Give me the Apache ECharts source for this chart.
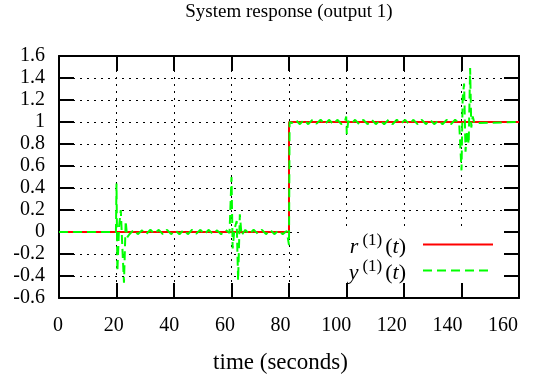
<!DOCTYPE html>
<html>
<head>
<meta charset="utf-8">
<script src="https://cdn.jsdelivr.net/npm/echarts@6/dist/echarts.min.js"></script>
<style>
  html, body { margin: 0; padding: 0; background: #fff; }
  #chart { width: 539px; height: 379px; }
</style>
</head>
<body>
<div id="chart"></div>
<script>
// reference r(t): step at 80 s
const timeR = [0, 80, 80, 160];
const refR = [0, 0, 1, 1];

// output y(t)
const timeY = [
  0, 19.8, 20, 20.3, 20.9, 21.5, 22.0, 22.6, 23.2, 23.7,
  24.5, 26, 27.4, 28.9, 30.3, 31.8, 33.2, 34.7, 36.1, 37.6, 39, 40.5, 41.9,
  43.4, 44.8, 46.3, 47.7, 49.2, 50.6, 52.1, 53.5, 55, 56.4, 57.9, 59.3,
  60, 60.4, 61, 61.8, 62.3, 62.9, 63.5,
  64.8, 66.2, 67.7, 69.1, 70.6, 72, 73.5, 74.9, 76.4, 77.8, 79.2,
  80, 80.2, 81, 82.3, 83.8, 85.2, 86.7, 88.1, 89.6, 91, 92.5, 93.9, 95.4,
  96.8, 98.3, 99.5, 99.9, 100.1, 100.6,
  101.5, 103, 104.4, 105.9, 107.3, 108.8, 110.2, 111.7, 113.1, 114.6, 116,
  117.5, 118.9, 120.4, 121.8, 123.3, 124.7, 126.2, 127.6, 129.1, 130.5, 132,
  133.4, 134.9, 136.3, 137.8, 139.2,
  140, 140.4, 140.9, 141.4, 141.9, 142.5, 143, 143.4, 143.9, 144.5, 145, 160
];
const outputY = [
  0, 0, 0.44, -0.36, 0.05, 0.2, -0.12, -0.46, 0.1, -0.05,
  -0.02, 0.02, -0.02, 0.015, -0.02, 0.02, -0.015, 0.02, -0.02, 0.02, -0.02, 0.015, -0.02,
  0.02, -0.02, 0.02, -0.015, 0.02, -0.02, 0.02, -0.02, 0.015, -0.02, 0.02, -0.01,
  0.5, -0.15, 0.02, 0.1, -0.44, 0.16, -0.03,
  0.02, -0.02, 0.02, -0.015, 0.02, -0.02, 0.02, -0.02, 0.015, -0.02, 0.01,
  -0.12, 1.0, 0.99, 1.02, 0.98, 1.02, 0.98, 1.02, 0.985, 1.02, 0.98, 1.02, 0.98,
  1.02, 0.98, 1.01, 1.05, 0.89, 1.01,
  0.98, 1.02, 0.98, 1.02, 0.98, 1.02, 0.98, 1.015, 0.98, 1.02, 0.98,
  1.02, 0.985, 1.02, 0.98, 1.02, 0.98, 1.02, 0.98, 1.02, 0.98, 1.015,
  0.98, 1.02, 0.98, 1.02, 0.99,
  0.56, 1.22, 1.35, 0.73, 0.92, 0.8, 1.49, 0.95, 1.05, 0.99, 1.0, 1.0
];

const font = "'Liberation Serif', 'DejaVu Serif', serif";

function zip(xs, ys) {
  return xs.map((x, i) => [x, ys[i]]);
}

// border axes: black frame with inward ticks (mirrored like gnuplot)
function frameAxis(extra) {
  return Object.assign({
    type: "value",
    z: 6,
    axisLine: { show: true, onZero: false, lineStyle: { color: "#000", width: 2 } },
    axisTick: { show: true, inside: true, length: 15, lineStyle: { color: "#000", width: 2 } },
    axisLabel: { show: false },
    splitLine: { show: false },
  }, extra);
}

// grid-only axes, drawn under the legend box
function gridAxis(extra) {
  return Object.assign({
    type: "value",
    z: 0,
    axisLine: { show: false, onZero: false },
    axisTick: { show: false },
    axisLabel: { show: false },
    splitLine: { show: true, lineStyle: { color: "#000", width: 1, type: [2, 5] } },
  }, extra);
}

const xRange = { min: 0, max: 160, interval: 20 };
const yRange = { min: -0.6, max: 1.6, interval: 0.2 };

const chart = echarts.init(document.getElementById("chart"));
chart.setOption({
  animation: false,
  backgroundColor: "#fff",
  title: {
    text: "System response (output 1)",
    left: 289,
    top: 3,
    padding: 0,
    textAlign: "center",
    textStyle: { fontFamily: font, fontSize: 19, fontWeight: "normal", color: "#000" },
  },
  grid: [
    { left: 59, right: 20, top: 56, bottom: 81 },
    // the x tick labels sit slightly compressed to the left in the original
    { left: 58, right: 36, top: 56, bottom: 81 },
  ],
  legend: {
    data: ["r", "y"],
    orient: "vertical",
    right: 24,
    top: 228,
    align: "right",
    itemWidth: 70,
    itemHeight: 14,
    itemGap: -5,
    padding: [4, 21, 8, 48],
    backgroundColor: "#fff",
    z: 4,
    itemStyle: { opacity: 0 },
    textStyle: {
      fontFamily: font,
      fontSize: 22,
      color: "#000",
      padding: [6, 0, 0, 0],
      rich: {
        i: { fontFamily: font, fontStyle: "italic", fontSize: 22, lineHeight: 22 },
        n: { fontFamily: font, fontSize: 22, lineHeight: 22 },
        s: { fontFamily: font, fontSize: 17, lineHeight: 12, padding: [0, 3, 14, 4] },
        g: { width: 12 },
      },
    },
    formatter: function (name) {
      return "{i|" + name + "}{s|(1)}{n|(}{i|t}{n|)}{g|}";
    },
  },
  xAxis: [
    frameAxis(Object.assign({ position: "bottom" }, xRange)),
    frameAxis(Object.assign({ position: "top" }, xRange)),
    gridAxis(Object.assign({ position: "bottom" }, xRange)),
    Object.assign({
      type: "value",
      gridIndex: 1,
      position: "bottom",
      axisLine: { show: false, onZero: false },
      axisTick: { show: false },
      splitLine: { show: false },
      axisLabel: { show: true, margin: 19, fontFamily: font, fontSize: 20, color: "#000" },
      name: "time (seconds)",
      nameLocation: "middle",
      nameGap: 54,
      nameTextStyle: { fontFamily: font, fontSize: 23, color: "#000" },
    }, xRange),
  ],
  yAxis: [
    frameAxis(Object.assign({
      position: "left",
      axisLabel: { show: true, margin: 14, fontFamily: font, fontSize: 20, color: "#000" },
    }, yRange)),
    frameAxis(Object.assign({ position: "right" }, yRange)),
    gridAxis(Object.assign({ position: "left" }, yRange)),
    Object.assign({ type: "value", gridIndex: 1, show: false }, yRange),
  ],
  series: [
    {
      name: "r",
      type: "line",
      data: zip(timeR, refR),
      symbol: "none",
      z: 10,
      itemStyle: { color: "#ff0000" },
      lineStyle: { color: "#ff0000", width: 2 },
    },
    {
      name: "y",
      type: "line",
      data: zip(timeY, outputY),
      symbol: "none",
      z: 11,
      itemStyle: { color: "#00ff00" },
      lineStyle: { color: "#00ff00", width: 2, type: [9, 5] },
    },
  ],
});
</script>
</body>
</html>
